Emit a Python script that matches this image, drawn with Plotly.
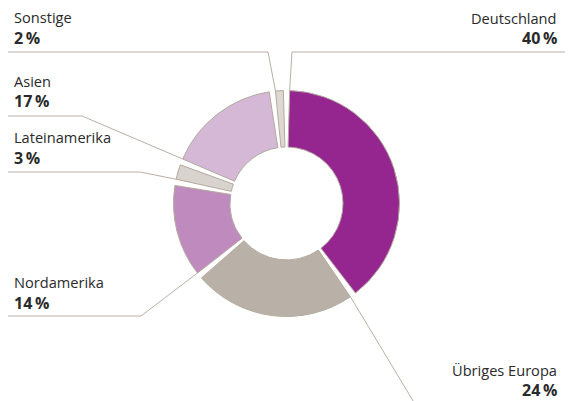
import math
import plotly.graph_objects as go

regions = ["Deutschland", "Übriges Europa", "Nordamerika", "Lateinamerika", "Asien", "Sonstige"]
shares = [40, 24, 14, 3, 17, 2]
colors = ["#95268F", "#B9B1A7", "#BF8BBE", "#D9D3CD", "#D5B8D6", "#DDD8D2"]

W, H = 573, 401
OFF = 8                   # page body margin, compensated below
CX, CY = 286.5, 203.5     # pie centre in pixels
R_OUT = 113
GAP = 3.2                 # white wedge between slices, degrees
LINE_COL = "#B8B0A6"
TEXT_COL = "#2A2A2A"
FONT = "Open Sans"

# where the leader line goes after leaving the slice, and where the label sits
leader = {
    "Deutschland": [(292, 52), (581, 52)],
    "Sonstige": [(268, 52), (3, 52)],
    "Asien": [(82, 116), (3, 116)],
    "Lateinamerika": [(140, 172), (3, 172)],
    "Nordamerika": [(141, 316), (3, 316)],
    "Übriges Europa": [(418, 409)],
}
label_pos = {
    "Deutschland": (559, 18, "right"),
    "Sonstige": (12, 17, "left"),
    "Asien": (12, 81, "left"),
    "Lateinamerika": (12, 137, "left"),
    "Nordamerika": (12, 282, "left"),
    "Übriges Europa": (559, 369.5, "right"),
}


def to_paper(x, y):
    return (x - OFF) / W, 1 - (y - OFF) / H


# pie values with small transparent gaps centred on every boundary
gap_pct = GAP / 360 * 100
values, fills, widths = [], [], []
for v, c in zip(shares, colors):
    values += [v - gap_pct, gap_pct]
    fills += [c, "rgba(0,0,0,0)"]
    widths += [1, 0]

x0, y1 = to_paper(CX - R_OUT, CY - R_OUT)
x1, y0 = to_paper(CX + R_OUT, CY + R_OUT)
fig = go.Figure(go.Pie(
    values=values,
    sort=False,
    direction="clockwise",
    rotation=GAP / 2,
    hole=0.5,
    marker=dict(colors=fills, line=dict(color="#B3AA9F", width=widths)),
    textinfo="none",
    hoverinfo="skip",
    showlegend=False,
    domain=dict(x=[x0, x1], y=[y0, y1]),
))

shapes, annotations = [], []
cum = 0
for name, v in zip(regions, shares):
    a = math.radians(cum * 3.6 + GAP / 2)
    cum += v
    pts = [(CX + R_OUT * math.sin(a), CY - R_OUT * math.cos(a))] + leader[name]
    path = " L ".join("%.4f,%.4f" % to_paper(x, y) for x, y in pts)
    shapes.append(dict(type="path", path="M " + path, xref="paper", yref="paper",
                       line=dict(color=LINE_COL, width=1)))

    lx, ly, side = label_pos[name]
    px, py = to_paper(lx, ly)
    annotations.append(dict(x=px, y=py, xref="paper", yref="paper", text=name,
                            showarrow=False, xanchor=side, yanchor="middle",
                            font=dict(family=FONT, size=14.6, color=TEXT_COL)))
    px, py = to_paper(lx, ly + 20.5)
    annotations.append(dict(x=px, y=py, xref="paper", yref="paper",
                            text="<b>%d\u2009%%</b>" % v,
                            showarrow=False, xanchor=side, yanchor="middle",
                            font=dict(family=FONT, size=16, color=TEXT_COL)))

fig.update_layout(width=W, height=H, margin=dict(l=0, r=0, t=0, b=0),
                  paper_bgcolor="white", plot_bgcolor="white",
                  shapes=shapes, annotations=annotations)
fig.write_html("out.html")
